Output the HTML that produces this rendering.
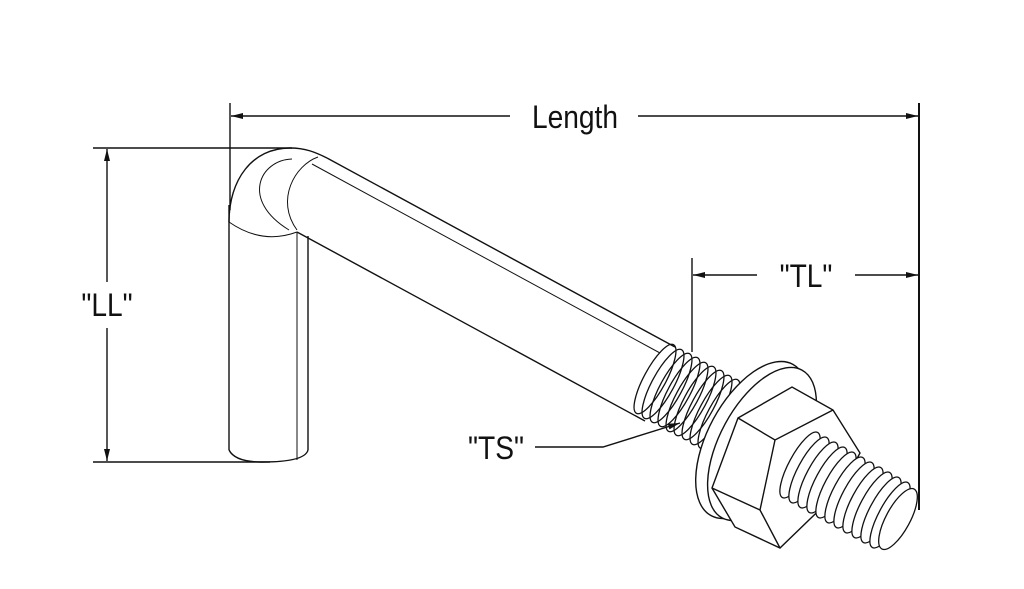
<!DOCTYPE html>
<html><head><style>
html,body{margin:0;padding:0;background:#fff;}
svg{display:block;}
text{font-family:"Liberation Sans",sans-serif;font-size:32px;fill:#111;}
</style></head><body>
<svg width="1024" height="589" viewBox="0 0 1024 589" xmlns="http://www.w3.org/2000/svg">
<defs>
<marker id="a" viewBox="0 0 12 6" refX="12" refY="3" markerWidth="12" markerHeight="6" orient="auto" markerUnits="userSpaceOnUse"><path d="M0,0 L12,3 L0,6z" fill="#111"/></marker>
</defs>
<g stroke="#111" fill="none" stroke-width="1.4">
<line x1="230" y1="103" x2="230" y2="210"/>
<line x1="919" y1="103" x2="919" y2="510" stroke-width="2"/>
<line x1="510" y1="116" x2="231" y2="116" marker-end="url(#a)"/>
<line x1="638" y1="116" x2="918" y2="116" marker-end="url(#a)"/>
<line x1="93" y1="148" x2="292" y2="148"/>
<line x1="93" y1="462" x2="270" y2="462"/>
<line x1="107" y1="282" x2="107" y2="149" marker-end="url(#a)"/>
<line x1="107" y1="328" x2="107" y2="461" marker-end="url(#a)"/>
<line x1="692" y1="258" x2="692" y2="352"/>
<line x1="757" y1="275" x2="693" y2="275" marker-end="url(#a)"/>
<line x1="855" y1="275" x2="918" y2="275" marker-end="url(#a)"/>
<polyline points="535,447 603,447 680,423" marker-end="url(#a)"/>
<line x1="229" y1="205" x2="229" y2="450"/>
<line x1="308" y1="236" x2="308" y2="450"/>
<line x1="297" y1="232" x2="297" y2="460" stroke-width="1"/>
<path d="M229,450 Q235,462 262,462 Q305,462 308,450"/>
<path d="M229,222 Q262,245 297,232" stroke-width="1"/>
<path d="M229,222 C229,180 252,148 290,148 C305,148 315,152 327,158"/>
<path d="M292,159 C260,160 240,200 289,230" stroke-width="1"/>
<path d="M318,157 C295,165 275,200 297,230" stroke-width="1"/>
<line x1="327" y1="158" x2="675" y2="347"/>
<line x1="312" y1="164" x2="660" y2="353" stroke-width="1"/>
<line x1="297" y1="232" x2="645" y2="421"/>
<g stroke-width="1.3">
<ellipse cx="655" cy="379" rx="11" ry="39" transform="rotate(28.4 655 379)"/>
<ellipse cx="663" cy="384" rx="11" ry="39" transform="rotate(28.4 663 384)"/>
<ellipse cx="671" cy="388" rx="11" ry="39" transform="rotate(28.4 671 388)"/>
<ellipse cx="679" cy="392" rx="11" ry="39" transform="rotate(28.4 679 392)"/>
<ellipse cx="687" cy="397" rx="11" ry="39" transform="rotate(28.4 687 397)"/>
<ellipse cx="695" cy="401" rx="11" ry="39" transform="rotate(28.4 695 401)"/>
<ellipse cx="703" cy="405" rx="11" ry="39" transform="rotate(28.4 703 405)"/>
<ellipse cx="711" cy="410" rx="11" ry="39" transform="rotate(28.4 711 410)"/>
<ellipse cx="719" cy="414" rx="11" ry="39" transform="rotate(28.4 719 414)"/>
</g>
<ellipse cx="752" cy="440" rx="44" ry="86" transform="rotate(28.4 752 440)" fill="#fff"/>
<ellipse cx="762" cy="444" rx="42" ry="84" transform="rotate(28.4 762 444)" fill="#fff"/>
<polygon points="712,488 738,418 792,387 833,410 860,453 840,490 780,548 735,527" fill="#fff"/>
<polyline points="738,418 775,440 833,410"/>
<polyline points="775,440 760,510 780,548"/>
<line x1="760" y1="510" x2="712" y2="488"/>
<g stroke-width="1.3">
<ellipse cx="800" cy="465" rx="11" ry="37" transform="rotate(28.4 800 465)" fill="#fff"/>
<ellipse cx="809" cy="470" rx="11" ry="37" transform="rotate(28.4 809 470)" fill="#fff"/>
<ellipse cx="818" cy="475" rx="11" ry="37" transform="rotate(28.4 818 475)" fill="#fff"/>
<ellipse cx="827" cy="480" rx="11" ry="37" transform="rotate(28.4 827 480)" fill="#fff"/>
<ellipse cx="836" cy="485" rx="11" ry="37" transform="rotate(28.4 836 485)" fill="#fff"/>
<ellipse cx="845" cy="490" rx="11" ry="37" transform="rotate(28.4 845 490)" fill="#fff"/>
<ellipse cx="854" cy="495" rx="11" ry="37" transform="rotate(28.4 854 495)" fill="#fff"/>
<ellipse cx="863" cy="500" rx="11" ry="37" transform="rotate(28.4 863 500)" fill="#fff"/>
<ellipse cx="872" cy="505" rx="11" ry="37" transform="rotate(28.4 872 505)" fill="#fff"/>
<ellipse cx="881" cy="510" rx="11" ry="37" transform="rotate(28.4 881 510)" fill="#fff"/>
<ellipse cx="890" cy="515" rx="11" ry="37" transform="rotate(28.4 890 515)" fill="#fff"/>
<ellipse cx="898" cy="519" rx="12" ry="34" transform="rotate(28.4 898 519)" fill="#fff"/>
</g>
</g>
<text x="575" y="128" text-anchor="middle" transform="translate(575 0) scale(0.88 1) translate(-575 0)">Length</text>
<text x="107" y="316" text-anchor="middle" transform="translate(107 0) scale(0.88 1) translate(-107 0)">"LL"</text>
<text x="806" y="287" text-anchor="middle" transform="translate(806 0) scale(0.88 1) translate(-806 0)">"TL"</text>
<text x="496" y="459" text-anchor="middle" transform="translate(496 0) scale(0.88 1) translate(-496 0)">"TS"</text>
</svg>
</body></html>
